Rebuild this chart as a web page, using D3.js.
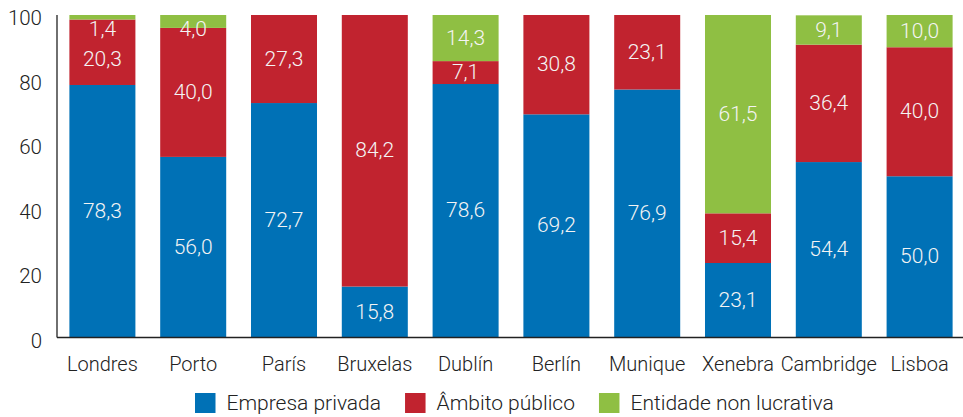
<!DOCTYPE html>
<html><head><meta charset="utf-8">
<script src="https://cdn.jsdelivr.net/npm/d3@7"></script>
<style>body{margin:0;background:#fff}svg{display:block;font-family:Roboto,"Noto Sans",sans-serif;font-weight:300}</style>
</head><body><svg id="c" width="963" height="417"></svg>
<script>
const categories = ["Londres","Porto","París","Bruxelas","Dublín","Berlín","Munique","Xenebra","Cambridge","Lisboa"];
const empresaPrivada = [78.3,56.0,72.7,15.8,78.6,69.2,76.9,23.1,54.4,50.0];
const ambitoPublico = [20.3,40.0,27.3,84.2,7.1,30.8,23.1,15.4,36.4,40.0];
const entidadeNonLucrativa = [1.4,4.0,0,0,14.3,0,0,61.5,9.1,10.0];
const seriesNames = ["Empresa privada","Âmbito público","Entidade non lucrativa"];
const yTicks = [0,20,40,60,80,100];
const colors = ["#0071b6","#c1232f","#8fbf43"];

const svg = d3.select("#c");
const x = d3.scaleBand().domain(categories).range([57,965]).paddingInner(0.273).paddingOuter(0.1365);
const y = d3.scaleLinear().domain([0,100]).range([337.5,15]);

const rows = categories.map((c,i)=>({cat:c, s0:empresaPrivada[i], s1:ambitoPublico[i], s2:entidadeNonLucrativa[i]}));
const stack = d3.stack().keys(["s0","s1","s2"])(rows);

const g = svg.append("g");
stack.forEach((layer,li)=>{
  g.selectAll(null).data(layer).join("rect")
    .attr("x",d=>x(d.data.cat)).attr("width",x.bandwidth())
    .attr("y",d=>y(d[1])).attr("height",d=>y(d[0])-y(d[1]))
    .attr("fill",colors[li]);
});

// value labels
const fmt = v => v.toFixed(1).replace(".",",");
rows.forEach((r,i)=>{
  const segs=[];
  let acc=0;
  [r.s0,r.s1,r.s2].forEach((v,k)=>{ const lo=acc; acc+=v; if(v>0) segs.push({v, c:(y(lo)+y(acc))/2}); });
  segs.reverse();
  let prev=-Infinity;
  segs.forEach(s=>{ let p=Math.max(s.c,29); if(p<prev+30) p=prev+30; s.p=p; prev=p; });
  segs.forEach(s=>{
    svg.append("text").attr("x",x(r.cat)+x.bandwidth()/2).attr("y",s.p+1)
      .attr("text-anchor","middle").attr("dominant-baseline","middle")
      .attr("font-size",21).attr("fill","#f4f4f4").text(fmt(s.v));
  });
});

// axes
svg.append("line").attr("x1",57).attr("x2",57).attr("y1",y(100)).attr("y2",y(0)).attr("stroke","#222").attr("stroke-width",1.3);
svg.append("line").attr("x1",57).attr("x2",965).attr("y1",y(0)).attr("y2",y(0)).attr("stroke","#222").attr("stroke-width",1.3);
yTicks.forEach(t=>{
  svg.append("text").attr("x",42).attr("y",y(t)+5).attr("text-anchor","end").attr("dominant-baseline","middle")
    .attr("font-size",20.5).attr("fill","#222").text(t);
});
categories.forEach(c=>{
  svg.append("text").attr("x",x(c)+x.bandwidth()/2).attr("y",366).attr("text-anchor","middle").attr("dominant-baseline","middle")
    .attr("font-size",20).attr("fill","#222").text(c);
});

// legend
const lg = svg.append("g");
let lx=195;
seriesNames.forEach((n,i)=>{
  lg.append("rect").attr("x",lx).attr("y",393).attr("width",20.5).attr("height",20).attr("fill",colors[i]);
  const t = lg.append("text").attr("x",lx+31.5).attr("y",404).attr("dominant-baseline","middle")
    .attr("font-size",21).attr("fill","#222").text(n);
  lx += 31.5 + t.node().getComputedTextLength() + 24;
});
</script></body></html>
